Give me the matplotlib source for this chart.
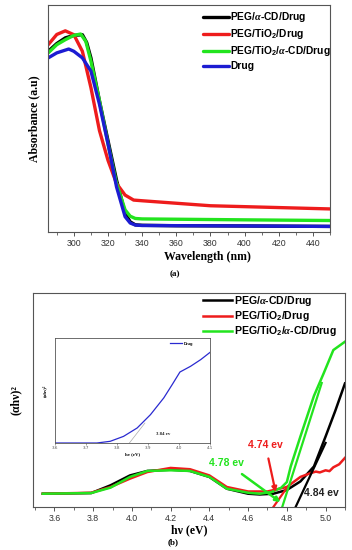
import matplotlib
matplotlib.use('Agg')
import matplotlib.pyplot as plt
from matplotlib.ticker import MultipleLocator

plt.rcParams['mathtext.fontset'] = 'custom'
plt.rcParams['mathtext.rm'] = 'Liberation Sans:bold'
plt.rcParams['mathtext.bf'] = 'Liberation Sans:bold'
plt.rcParams['mathtext.it'] = 'Liberation Serif:italic:bold'

SANS = 'Liberation Sans'
SERIF = 'Liberation Serif'

# (a) UV-vis absorbance
labels_a = ['PEG/$\\alpha$-CD/Drug', 'PEG/TiO$_2$/Drug',
            'PEG/TiO$_2$/$\\alpha$-CD/Drug', 'Drug']
colors_a = ['#000000', '#ee1c1c', '#22e41e', '#1c1cd2']

wl_black = [285, 290, 295, 300, 305, 307.5, 310, 315, 320, 325, 330, 333, 336, 340, 360, 400, 450]
ab_black = [0.796, 0.83, 0.855, 0.866, 0.869, 0.835, 0.767, 0.578, 0.403, 0.229, 0.083,
            0.045, 0.032, 0.03, 0.028, 0.027, 0.025]
wl_red = [285, 290, 295, 300, 305, 310, 315, 320, 325, 330, 335, 340, 360, 380, 400, 420, 450]
ab_red = [0.825, 0.87, 0.886, 0.869, 0.796, 0.636, 0.447, 0.316, 0.214, 0.163, 0.141,
          0.138, 0.127, 0.116, 0.112, 0.108, 0.102]
wl_green = [285, 290, 295, 300, 304, 307, 310, 315, 320, 325, 330, 333, 336, 340, 400, 450]
ab_green = [0.789, 0.825, 0.847, 0.866, 0.872, 0.84, 0.753, 0.578, 0.389, 0.214, 0.098,
            0.07, 0.06, 0.058, 0.054, 0.051]
wl_blue = [285, 290, 297, 300, 305, 310, 315, 320, 325, 330, 333, 336, 340, 400, 450]
ab_blue = [0.767, 0.789, 0.806, 0.796, 0.767, 0.709, 0.563, 0.389, 0.199, 0.068, 0.04,
           0.031, 0.029, 0.027, 0.025]

# (b) Tauc plot
labels_b = labels_a[:3]
ev_black = [3.54, 3.79, 3.89, 3.99, 4.08, 4.2, 4.3, 4.4, 4.49, 4.6, 4.66, 4.73, 4.8,
            4.87, 4.94, 5.0, 5.05, 5.1]
ty_black = [0.0625, 0.0656, 0.102, 0.148, 0.169, 0.175, 0.169, 0.141, 0.086, 0.0625,
            0.059, 0.0625, 0.08, 0.12, 0.19, 0.33, 0.45, 0.578]
ev_red = [3.54, 3.79, 3.89, 3.99, 4.08, 4.2, 4.3, 4.4, 4.49, 4.6, 4.7, 4.8, 4.87, 4.92,
          4.95, 4.97, 5.0, 5.02, 5.04, 5.07, 5.1]
ty_red = [0.0625, 0.067, 0.094, 0.133, 0.164, 0.183, 0.177, 0.148, 0.094, 0.073, 0.073,
          0.094, 0.141, 0.158, 0.166, 0.162, 0.172, 0.168, 0.186, 0.2, 0.23]
ev_green = [3.54, 3.79, 3.89, 3.99, 4.08, 4.2, 4.3, 4.4, 4.49, 4.6, 4.66, 4.72, 4.77,
            4.8, 4.82, 4.87, 4.94, 4.99, 5.04, 5.1]
ty_green = [0.0625, 0.0656, 0.091, 0.141, 0.169, 0.172, 0.169, 0.141, 0.086, 0.067,
            0.0625, 0.07, 0.09, 0.117, 0.19, 0.33, 0.52, 0.625, 0.734, 0.773]

# tangent lines (x pair, y pair)
tan_black = ([4.845, 5.0], [0.0, 0.30])
tan_red = ([4.73, 4.80], [0.0, 0.09])
tan_green = ([4.776, 4.98], [0.0, 0.58])

# inset: Drug
ev_drug = [3.6, 3.735, 3.778, 3.821, 3.865, 3.908, 3.951, 3.978, 4.003, 4.037, 4.07, 4.1]
ty_drug = [0.0, 0.0, 0.016, 0.063, 0.143, 0.27, 0.43, 0.556, 0.676, 0.73, 0.794, 0.863]
tan_drug = ([3.84, 3.89], [0.0, 0.19])

fig = plt.figure(figsize=(3.52, 5.5), dpi=100)

def style(ax, major, minor, lsize):
    for s in ax.spines.values():
        s.set_color('#555555')
        s.set_linewidth(0.8)
    ax.set_yticks([])
    ax.xaxis.set_major_locator(MultipleLocator(major))
    ax.xaxis.set_minor_locator(MultipleLocator(minor))
    ax.tick_params(axis='x', which='major', direction='out', length=3, width=0.7,
                   color='#555555', labelsize=lsize, labelcolor='#333333', pad=2)
    ax.tick_params(axis='x', which='minor', direction='out', length=2, width=0.6,
                   color='#555555')
    for t in ax.get_xticklabels():
        t.set_family(SANS)

# ---------- (a)
ax1 = fig.add_axes([0.137, 0.578, 0.8005, 0.413])
for wl, ab, c, lab in zip([wl_black, wl_red, wl_green, wl_blue],
                          [ab_black, ab_red, ab_green, ab_blue], colors_a, labels_a):
    ax1.plot(wl, ab, color=c, lw=2.4, label=lab, solid_capstyle='round')
ax1.set_xlim(285, 450)
ax1.set_ylim(0, 1)
style(ax1, 20, 10, 6.3)
ax1.set_ylabel('Absorbance (a.u)', family=SERIF, fontweight='bold', fontsize=8.5, labelpad=6)
ax1.set_xlabel('Wavelength (nm)', family=SERIF, fontweight='bold', fontsize=8.5)
ax1.xaxis.set_label_coords(0.566, -0.085)
ax1.legend(loc='upper left', bbox_to_anchor=(0.535, 0.995), frameon=False,
           prop={'family': SANS, 'weight': 'bold', 'size': 7.4},
           handlelength=2.5, handletextpad=0.15, labelspacing=0.3, borderaxespad=0)
fig.text(175 / 352, 1 - 274 / 550, '(a)', family=SERIF, fontweight='bold', fontsize=6.5,
         ha='center', va='center')

# ---------- (b)
ax2 = fig.add_axes([0.094, 0.078, 0.886, 0.389])
for ev, ty, c, lab in zip([ev_black, ev_red, ev_green], [ty_black, ty_red, ty_green],
                          colors_a[:3], labels_b):
    ax2.plot(ev, ty, color=c, lw=1.8, label=lab)
for (tx, tyy), c in zip([tan_black, tan_red, tan_green], colors_a[:3]):
    ax2.plot(tx, tyy, color=c, lw=1.6)
ax2.set_xlim(3.49, 5.10)
ax2.set_ylim(0, 1)
style(ax2, 0.2, 0.1, 6.3)
ax2.set_ylabel('(αhν)²', family=SERIF, fontweight='bold', fontsize=8.5, labelpad=8)
ax2.set_xlabel('hν (eV)', family=SERIF, fontweight='bold', fontsize=8.5, labelpad=1)
ax2.legend(loc='upper left', bbox_to_anchor=(0.53, 1.015), frameon=False,
           prop={'family': SANS, 'weight': 'bold', 'size': 7.6},
           handlelength=2.8, handletextpad=0.2, labelspacing=0.1, borderaxespad=0)

ann = dict(family=SANS, fontweight='bold', fontsize=7.5)
ax2.annotate('4.74 ev', xy=(4.742, 0.07), xytext=(4.69, 0.289), color=colors_a[1],
             ha='center', va='center',
             arrowprops=dict(arrowstyle='-|>', color=colors_a[1], lw=1.6,
                             mutation_scale=7, shrinkA=4, shrinkB=0), **ann)
ax2.annotate('4.78 ev', xy=(4.767, 0.023), xytext=(4.49, 0.206), color=colors_a[2],
             ha='center', va='center',
             arrowprops=dict(arrowstyle='-|>', color=colors_a[2], lw=1.8,
                             mutation_scale=7, shrinkA=4, shrinkB=0), **ann)
ax2.text(4.89, 0.066, '4.84 ev', color='#222222', ha='left', va='center', **ann)
fig.text(173 / 352, 1 - 542 / 550, '(b)', family=SERIF, fontweight='bold', fontsize=6.5,
         ha='center', va='center')

# ---------- inset
ax3 = fig.add_axes([55 / 352, 1 - 443 / 550, 155 / 352, 105 / 550])
ax3.plot(ev_drug, ty_drug, color='#2a2ad0', lw=0.9, label='Drug')
ax3.plot(tan_drug[0], tan_drug[1], color='#aaaaaa', lw=0.5)
ax3.set_xlim(3.6, 4.1)
ax3.set_ylim(0, 1)
for s in ax3.spines.values():
    s.set_color('#555555')
    s.set_linewidth(0.6)
ax3.set_yticks([])
ax3.set_xticks([3.6, 3.7, 3.8, 3.9, 4.0, 4.1])
ax3.tick_params(axis='x', direction='out', length=1.5, width=0.4, labelsize=3,
                color='#555555', labelcolor='#555555', pad=1)
ax3.set_xlabel('hν (eV)', family=SERIF, fontweight='bold', fontsize=3.5, labelpad=1)
ax3.set_ylabel('(αhν)²', family=SERIF, fontweight='bold', fontsize=3.5, labelpad=6)
ax3.text(3.925, 0.086, '3.84 ev', family=SERIF, fontweight='bold', fontsize=3.5,
         ha='left', va='center', color='#222222')
ax3.legend(loc='upper right', bbox_to_anchor=(0.9, 0.98), frameon=False,
           prop={'family': SANS, 'weight': 'bold', 'size': 3},
           handlelength=3, handletextpad=0.3, borderaxespad=0)

fig.savefig('out.png', dpi=100)
